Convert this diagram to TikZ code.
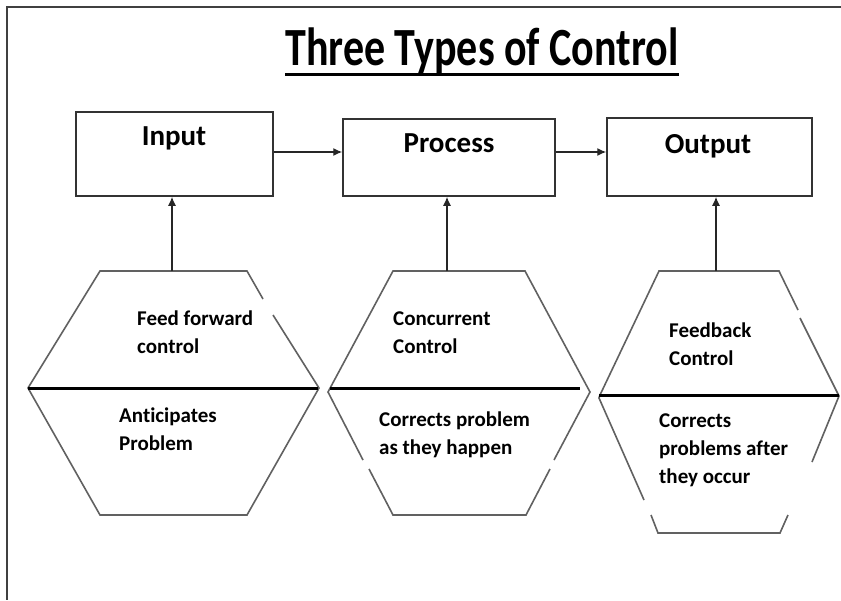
\documentclass[tikz,border=0pt]{standalone}
\usepackage{fontspec}
\setmainfont{Carlito}[Ligatures=NoCommon]
\usetikzlibrary{arrows.meta}
\tikzset{
  frameline/.style={line width=1.6pt, draw=black!75},
  boxst/.style={draw=black!80, line width=1.5pt, rectangle, inner sep=0pt},
  boxlbl/.style={font=\bfseries\fontsize{29}{34}\selectfont, inner sep=0pt, anchor=base},
  hexline/.style={draw=black!62, line width=1.6pt},
  midline/.style={draw=black, line width=3pt},
  hexlbl/.style={font=\bfseries\fontsize{21}{28}\selectfont, inner sep=0pt, anchor=base west, align=left},
  arr/.style={draw=black!85, line width=1.4pt, -{Latex[length=9pt,width=8pt]}},
}
\begin{document}
\begin{tikzpicture}[x=1pt,y=-1pt]
\useasboundingbox (0,0) rectangle (841,600);
\fill[white] (0,0) rectangle (841,600);
% frame (top and left sides only)
\draw[frameline] (841,7) -- (7,7) -- (7,600);
% title
\node[inner sep=0pt, anchor=base, font=\bfseries\fontsize{42}{48}\selectfont] (tt) at (482,65) {\scalebox{1}[1.28]{Three Types of Control}};
\draw[black, line width=3pt] ([yshift=-9pt]tt.base west) -- ([yshift=-9pt]tt.base east);
% boxes
\node[boxst, minimum width=197pt, minimum height=84pt] (in) at (174.5,154) {};
\node[boxst, minimum width=212pt, minimum height=77pt] (pr) at (449,157.5) {};
\node[boxst, minimum width=205pt, minimum height=78pt] (ou) at (709.5,157) {};
\node[boxlbl] (inT) at (174,145) {Input};
\node[boxlbl] (prT) at (449,152) {Process};
\node[boxlbl] (ouT) at (708,153) {Output};
% horizontal arrows
\coordinate (ay) at (0,152);
\draw[arr] (in.east |- ay) -- (pr.west |- ay);
\draw[arr] (pr.east |- ay) -- (ou.west |- ay);
% hexagon 1
\coordinate (h1t) at (172,271);
\draw[hexline] (263,299) -- (247,271) -- (100,271) -- (28,388) -- (100,515) -- (247,515) -- (319,388) -- (273,315);
\draw[midline] (28,388) -- (318,388);
% hexagon 2
\coordinate (h2t) at (447,271);
\draw[hexline] (363,460) -- (328,392) -- (393,271) -- (525,271) -- (590,392) -- (554,460);
\draw[hexline] (369,469) -- (393,515) -- (526,515) -- (550,469);
\draw[midline] (330,388) -- (580,388);
% hexagon 3
\coordinate (h3t) at (716,271);
\draw[hexline] (644,500) -- (599,398) -- (600,395) -- (659,271) -- (779,271) -- (798,310);
\draw[hexline] (800,318) -- (839,396) -- (812,462);
\draw[hexline] (651,515) -- (658,533) -- (780,533) -- (788,515);
\draw[midline] (599,395) -- (839,395);
% vertical arrows
\draw[arr] (h1t) -- (in.south -| h1t);
\draw[arr] (h2t) -- (pr.south -| h2t);
\draw[arr] (h3t) -- (ou.south -| h3t);
% hexagon texts (anchor = baseline of the last line)
\node[hexlbl] (t1a) at (137,353) {Feed forward\\control};
\node[hexlbl] (t1b) at (119,450) {Anticipates\\Problem};
\node[hexlbl] (t2a) at (393,353) {Concurrent\\Control};
\node[hexlbl] (t2b) at (379,454) {Corrects problem\\as they happen};
\node[hexlbl] (t3a) at (669,365) {Feedback\\Control};
\node[hexlbl] (t3b) at (659,483) {Corrects\\problems after\\they occur};
\end{tikzpicture}
\end{document}
